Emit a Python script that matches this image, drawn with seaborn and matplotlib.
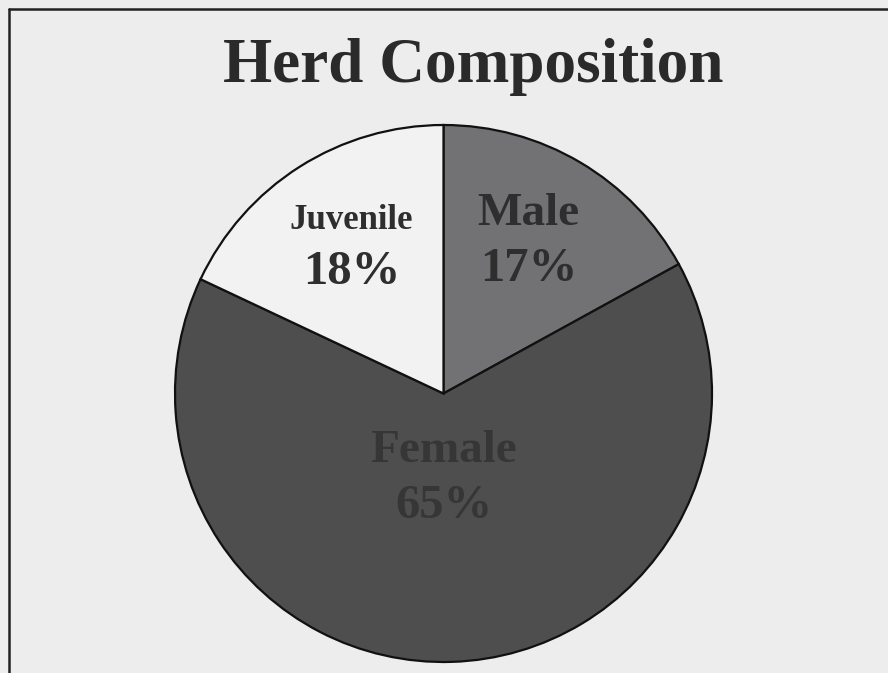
import matplotlib
matplotlib.use("Agg")
import matplotlib.pyplot as plt
import seaborn as sns

# Data
categories = ["Male", "Female", "Juvenile"]
shares = [17, 65, 18]
wedge_colors = ["#727274", "#4e4e4e", "#f2f2f2"]

sns.set_theme(style="white")
plt.rcParams["font.family"] = ["Liberation Serif", "DejaVu Serif"]

W, H = 888, 673
fig = plt.figure(figsize=(W / 100, H / 100), dpi=100)
fig.patch.set_facecolor("#ededed")

# frame lines (top and left visible in scan)
fig.add_artist(plt.Line2D([9 / W, 1], [1 - 9 / H, 1 - 9 / H], color="#222222", lw=1.8))
fig.add_artist(plt.Line2D([9 / W, 9 / W], [0, 1 - 9 / H], color="#222222", lw=1.8))

cx, cy, r = 443.5, 393.5, 268.5
ax = fig.add_axes([(cx - r) / W, 1 - (cy + r) / H, 2 * r / W, 2 * r / H])
ax.pie(shares, colors=wedge_colors, startangle=90, counterclock=False,
       wedgeprops=dict(edgecolor="#111111", linewidth=1.6))
ax.set_xlim(-1, 1)
ax.set_ylim(-1, 1)
ax.set_aspect("equal")
ax.axis("off")

txt = dict(ha="center", va="center", fontweight="bold", color="#2e2e2e")
ax.text(-0.343, 0.645, "Juvenile", fontsize=25, **txt)
ax.text(-0.343, 0.452, f"{shares[2]}%", fontsize=35, **txt)
ax.text(0.316, 0.668, "Male", fontsize=34, **txt)
ax.text(0.316, 0.462, f"{shares[0]}%", fontsize=35, **txt)
ax.text(0.0, -0.215, "Female", fontsize=34, color="#363636",
        ha="center", va="center", fontweight="bold")
ax.text(0.0, -0.42, f"{shares[1]}%", fontsize=35, color="#363636",
        ha="center", va="center", fontweight="bold")

fig.text(473 / W, 1 - 67 / H, "Herd Composition", fontsize=45.5, fontweight="bold",
         color="#2a2a2a", ha="center", va="center")

fig.savefig("out.png", dpi=100, facecolor=fig.get_facecolor())
